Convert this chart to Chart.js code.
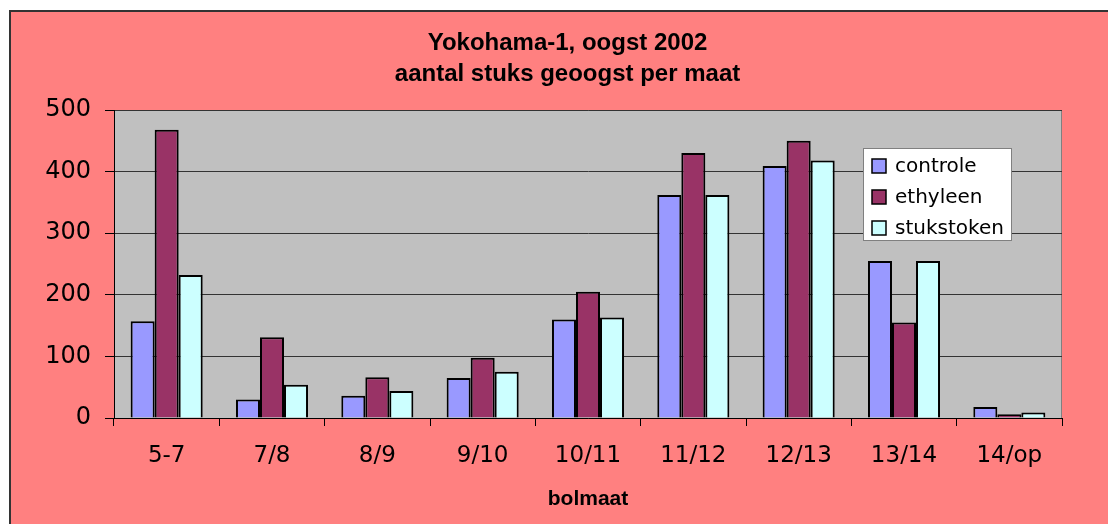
<!DOCTYPE html>
<html>
<head>
<meta charset="utf-8">
<script src="https://cdn.jsdelivr.net/npm/chart.js@4/dist/chart.umd.min.js"></script>
<style>
  html, body { margin: 0; padding: 0; background: #fff; overflow: hidden; width: 1108px; height: 524px; }
  #frame {
    position: absolute; left: 9px; top: 10px;
    width: 1113px; height: 512px;
    background: #ff8080;
    border-left: 2px solid #333;
    border-top: 2px solid #333;
  }
  #chart { display: block; }
</style>
</head>
<body>
<div id="frame"><canvas id="chart" width="1113" height="512"></canvas></div>
<script>
const categories = ['5-7', '7/8', '8/9', '9/10', '10/11', '11/12', '12/13', '13/14', '14/op'];
const controle = [157, 30, 36, 65, 160, 362, 409, 255, 18];
const ethyleen = [468, 131, 66, 98, 205, 430, 450, 155, 6];
const stukstoken = [232, 54, 44, 75, 163, 362, 418, 255, 9];
const yTicks = [0, 100, 200, 300, 400, 500];

const tickFont = { family: 'DejaVu Sans', size: 23 };

// grey plot background with grey top/right edge
const plotBg = {
  id: 'plotBg',
  beforeDraw(chart) {
    const { ctx, chartArea: a } = chart;
    ctx.save();
    ctx.fillStyle = '#c0c0c0';
    ctx.fillRect(a.left, a.top, a.right - a.left, a.bottom - a.top);
    ctx.strokeStyle = '#808080';
    ctx.lineWidth = 1;
    ctx.beginPath();
    ctx.moveTo(a.left, a.top + 0.5);
    ctx.lineTo(a.right - 0.5, a.top + 0.5);
    ctx.lineTo(a.right - 0.5, a.bottom);
    ctx.stroke();
    ctx.restore();
  }
};

// boxed legend inside the plot, like the original
const boxLegend = {
  id: 'boxLegend',
  afterDraw(chart) {
    const ctx = chart.ctx;
    ctx.save();
    ctx.fillStyle = '#fff';
    ctx.fillRect(852, 136, 149, 93);
    ctx.strokeStyle = '#808080';
    ctx.lineWidth = 1;
    ctx.strokeRect(852.5, 136.5, 148, 92);
    ctx.font = '20px "DejaVu Sans"';
    ctx.textBaseline = 'middle';
    chart.data.datasets.forEach((ds, i) => {
      const cy = 154 + i * 31;
      ctx.fillStyle = ds.backgroundColor;
      ctx.fillRect(861, cy - 7, 14, 14);
      ctx.strokeStyle = '#000';
      ctx.lineWidth = 1.5;
      ctx.strokeRect(861, cy - 7, 14, 14);
      ctx.fillStyle = '#000';
      ctx.fillText(ds.label, 884, cy + 1);
    });
    ctx.restore();
  }
};

new Chart(document.getElementById('chart'), {
  type: 'bar',
  data: {
    labels: categories,
    datasets: [
      { label: 'controle', data: controle, backgroundColor: '#9999ff' },
      { label: 'ethyleen', data: ethyleen, backgroundColor: '#993366' },
      { label: 'stukstoken', data: stukstoken, backgroundColor: '#ccffff' }
    ]
  },
  options: {
    responsive: false,
    animation: false,
    layout: { padding: 0 },
    datasets: {
      bar: {
        borderColor: '#000',
        borderWidth: 2,
        categoryPercentage: 0.684,
        barPercentage: 1
      }
    },
    plugins: {
      legend: { display: false },
      tooltip: { enabled: false },
      title: {
        display: true,
        text: ['Yokohama-1, oogst 2002', 'aantal stuks geoogst per maat'],
        color: '#000',
        font: { family: 'Liberation Sans', size: 24, weight: 'bold', lineHeight: 31 / 24 },
        padding: { top: 16, bottom: 20 }
      }
    },
    scales: {
      x: {
        offset: true,
        grid: {
          display: true,
          offset: true,
          drawOnChartArea: false,
          color: '#000',
          tickLength: 8
        },
        border: { color: '#000', width: 1 },
        ticks: { color: '#000', font: tickFont, padding: 16, maxRotation: 0 },
        title: {
          display: true,
          text: 'bolmaat',
          color: '#000',
          font: { family: 'Liberation Sans', size: 21, weight: 'bold' },
          padding: { top: 0, bottom: 12 }
        },
        afterFit(scale) { scale.height = 106; }
      },
      y: {
        min: 0,
        max: 500,
        afterBuildTicks(scale) { scale.ticks = yTicks.map(v => ({ value: v })); },
        grid: { color: '#333', lineWidth: 1, tickLength: 9, tickColor: '#000' },
        border: { color: '#000', width: 1 },
        ticks: { color: '#000', font: { family: 'DejaVu Sans', size: 24 }, padding: 14 },
        afterFit(scale) { scale.width = 103; }
      },
      // empty right margin so the title centres on the whole frame
      pad: {
        type: 'linear',
        position: 'right',
        display: true,
        grid: { display: false, drawTicks: false },
        border: { display: false },
        ticks: { display: false },
        afterFit(scale) { scale.width = 62; }
      }
    }
  },
  plugins: [plotBg, boxLegend]
});
</script>
</body>
</html>
